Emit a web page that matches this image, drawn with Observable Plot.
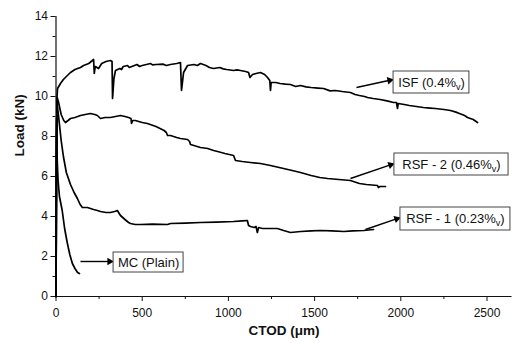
<!DOCTYPE html>
<html>
<head>
<meta charset="utf-8">
<script src="https://cdn.jsdelivr.net/npm/d3@7"></script>
<script src="https://cdn.jsdelivr.net/npm/@observablehq/plot@0.6"></script>
<style>
  html, body { margin: 0; padding: 0; background: white; }
</style>
</head>
<body>
<div id="chart"></div>
<script>
// Series values: [CTOD (µm), Load (kN)]
const isf = [[0,0],[2,4],[4,8],[6,10.0],[9,10.4],[26,10.65],[43,10.85],[60,11.0],[84,11.2],[110,11.35],[142,11.45],[160,11.55],[190,11.65],[218,11.85],[222,11.15],[228,11.5],[247,11.4],[265,11.65],[290,11.75],[316,11.8],[325,11.75],[328,9.9],[336,10.9],[345,11.3],[370,11.4],[380,11.35],[390,11.5],[415,11.55],[425,11.45],[440,11.5],[470,11.6],[485,11.5],[500,11.55],[548,11.65],[560,11.58],[580,11.6],[620,11.62],[640,11.55],[664,11.6],[700,11.65],[722,11.7],[728,10.3],[740,11.2],[763,11.55],[800,11.6],[820,11.55],[838,11.65],[870,11.55],[890,11.45],[914,11.4],[950,11.45],[970,11.38],[990,11.35],[1030,11.3],[1050,11.33],[1070,11.3],[1100,11.25],[1117,11.2],[1125,10.95],[1140,11.1],[1160,11.15],[1186,11.2],[1210,11.1],[1227,10.95],[1240,10.8],[1244,10.3],[1248,10.7],[1275,10.7],[1300,10.65],[1330,10.62],[1360,10.6],[1390,10.5],[1418,10.55],[1450,10.48],[1480,10.45],[1520,10.42],[1552,10.4],[1590,10.28],[1620,10.3],[1660,10.25],[1708,10.2],[1735,10.1],[1760,10.05],[1790,10.0],[1807,9.95],[1840,9.9],[1880,9.85],[1920,9.78],[1958,9.7],[1975,9.7],[1981,9.4],[1985,9.65],[2020,9.6],[2050,9.55],[2090,9.5],[2131,9.45],[2170,9.42],[2200,9.4],[2250,9.35],[2288,9.3],[2320,9.22],[2340,9.15],[2370,9.05],[2387,8.95],[2420,8.85],[2445,8.7]];
const rsf2 = [[0,0],[2,4],[4,8],[7,9.95],[15,9.7],[30,9.1],[45,8.8],[55,8.7],[70,8.8],[84,8.9],[110,8.95],[142,9.05],[170,9.1],[200,9.15],[225,9.1],[240,9.05],[258,8.9],[285,8.95],[316,8.95],[345,9.0],[374,9.05],[400,9.0],[421,8.95],[435,8.9],[438,8.65],[445,8.8],[460,8.8],[500,8.7],[530,8.65],[580,8.5],[627,8.3],[640,8.2],[647,8.05],[664,8.05],[700,7.95],[722,7.9],[763,7.85],[775,7.75],[780,7.6],[800,7.55],[838,7.45],[880,7.4],[914,7.3],[937,7.25],[980,7.15],[1030,7.05],[1041,6.8],[1080,6.75],[1128,6.7],[1186,6.65],[1244,6.55],[1320,6.4],[1370,6.3],[1418,6.2],[1480,6.05],[1530,5.95],[1575,5.9],[1640,5.85],[1708,5.8],[1760,5.65],[1800,5.6],[1865,5.55],[1870,5.45],[1880,5.5],[1911,5.5]];
const rsf1 = [[0,0],[2,4],[4,8],[6,9.7],[15,9.0],[30,7.8],[43,7.0],[60,6.2],[84,5.6],[105,5.2],[124,4.9],[140,4.6],[153,4.45],[182,4.45],[218,4.35],[240,4.3],[258,4.25],[290,4.2],[316,4.2],[340,4.25],[356,4.3],[363,4.2],[374,4.05],[400,3.85],[421,3.7],[432,3.65],[460,3.6],[490,3.6],[560,3.62],[647,3.6],[664,3.65],[750,3.67],[838,3.7],[930,3.72],[1030,3.75],[1080,3.78],[1110,3.8],[1117,3.55],[1128,3.5],[1150,3.45],[1160,3.5],[1168,3.2],[1175,3.45],[1197,3.4],[1240,3.4],[1284,3.4],[1320,3.3],[1360,3.2],[1420,3.25],[1480,3.28],[1534,3.3],[1600,3.28],[1670,3.25],[1720,3.28],[1785,3.3],[1842,3.35]];
const mc = [[0,0],[1,4],[2,7.5],[3,8.9],[5,8.0],[7,6.8],[12,5.8],[20,5.0],[36,4.3],[50,3.4],[65,2.7],[80,2.1],[95,1.65],[110,1.4],[125,1.2],[136,1.15]];

// Labels (series names) and annotation anchors
const seriesNames = ["ISF (0.4%v)", "RSF - 2 (0.46%v)", "RSF - 1 (0.23%v)", "MC (Plain)"];
const boxX1 = [1958, 1963, 1998, 334];
const boxX2 = [2398, 2625, 2636, 740];
const boxY1 = [10.15, 6.05, 3.3, 1.2];
const boxY2 = [11.25, 7.15, 4.45, 2.2];
const arrowX1 = [1743, 1708, 1795, 142];
const arrowY1 = [10.45, 5.9, 3.35, 1.75];
const arrowX2 = [1958, 1963, 1998, 334];
const arrowY2 = [10.85, 6.65, 3.95, 1.75];

// Tick labels
const xTicks = [0, 500, 1000, 1500, 2000, 2500];
const xMinor = [250, 750, 1250, 1750, 2250];
const yTicks = [0, 2, 4, 6, 8, 10, 12, 14];
const yMinor = [1, 3, 5, 7, 9, 11, 13];

const xDomain = [0, 2645], yDomain = [0, 14];
const W = 512, H = 343, mL = 55.5, mR = 0.5, mT = 16, mB = 47;
const sx = Plot.scale({x: {domain: xDomain, range: [mL, W - mR]}});
const sy = Plot.scale({y: {domain: yDomain, range: [H - mB, mT]}});

const series = [isf, rsf2, rsf1, mc];
const lines = series.flatMap((s, i) => s.map(([x, y]) => ({x, y, s: i})));
const ann = seriesNames.map((name, i) => {
  const px1 = sx.apply(arrowX1[i]), py1 = sy.apply(arrowY1[i]);
  const px2 = sx.apply(arrowX2[i]), py2 = sy.apply(arrowY2[i]);
  const len = Math.hypot(px2 - px1, py2 - py1);
  const ux = (px2 - px1) / len, uy = (py2 - py1) / len;
  // head centroid placed slightly behind the tip (in pixels, converted back to data)
  const hx = sx.invert(px2 - ux * 4), hy = sy.invert(py2 - uy * 4);
  const lx = sx.invert(px2 - ux * 5), ly = sy.invert(py2 - uy * 5);
  const rot = Math.atan2(ux, -uy) * 180 / Math.PI;
  return {name, x1: boxX1[i], x2: boxX2[i], y1: boxY1[i], y2: boxY2[i],
    ax1: arrowX1[i], ay1: arrowY1[i], lx, ly, hx, hy, rot};
});

const chart = Plot.plot({
  width: W,
  height: H,
  marginLeft: mL,
  marginRight: mR,
  marginTop: mT,
  marginBottom: mB,
  style: {fontFamily: "'Liberation Sans', Arial, sans-serif", fontSize: "12px", color: "#111", background: "white"},
  x: {domain: xDomain},
  y: {domain: yDomain},
  marks: [
    Plot.axisX({ticks: xTicks, tickSize: 5, tickPadding: 7, fontSize: 12, tickFormat: d => String(d), label: null}),
    Plot.axisX({ticks: xMinor, tickSize: 3, text: null, label: null}),
    Plot.axisY({ticks: yTicks, tickSize: 5, tickPadding: 3, fontSize: 12, label: null}),
    Plot.axisY({ticks: yMinor, tickSize: 3, text: null, label: null}),
    Plot.ruleX([0], {stroke: "#111", strokeWidth: 1.2}),
    Plot.ruleY([0], {stroke: "#111", strokeWidth: 1.2}),
    Plot.line(lines, {x: "x", y: "y", z: "s", stroke: "#000", strokeWidth: 1.7, strokeLinejoin: "round"}),
    Plot.link(ann, {x1: "ax1", y1: "ay1", x2: "lx", y2: "ly", stroke: "#000", strokeWidth: 1.4}),
    Plot.dot(ann, {x: "hx", y: "hy", symbol: "triangle2", r: 3.6, fill: "#000", rotate: "rot"}),
    Plot.rect(ann, {x1: "x1", x2: "x2", y1: "y1", y2: "y2", fill: "white", stroke: "#444", strokeWidth: 1}),
    Plot.text(ann, {x: d => (d.x1 + d.x2) / 2, y: d => (d.y1 + d.y2) / 2, text: "name", fontSize: 13, fill: "#111"}),
    Plot.text(["CTOD (μm)"], {frameAnchor: "bottom", dy: 38, fontWeight: "bold", fontSize: 13.5, fill: "#111"}),
    Plot.text(["Load (kN)"], {frameAnchor: "left", dx: -36, rotate: -90, fontWeight: "bold", fontSize: 13.5, fill: "#111"})
  ]
});

// Subscript "v" in the volume-fraction labels
chart.querySelectorAll("text").forEach(t => {
  const s = t.textContent;
  if (s.includes("%v)")) {
    const [pre] = s.split("%v)");
    while (t.firstChild) t.removeChild(t.firstChild);
    const ns = "http://www.w3.org/2000/svg";
    const a = document.createElementNS(ns, "tspan"); a.textContent = pre + "%";
    const b = document.createElementNS(ns, "tspan"); b.textContent = "v"; b.setAttribute("dy", "3"); b.setAttribute("font-size", "9");
    const c = document.createElementNS(ns, "tspan"); c.textContent = ")"; c.setAttribute("dy", "-3");
    t.append(a, b, c);
  }
});

document.getElementById("chart").appendChild(chart);
</script>
</body>
</html>
